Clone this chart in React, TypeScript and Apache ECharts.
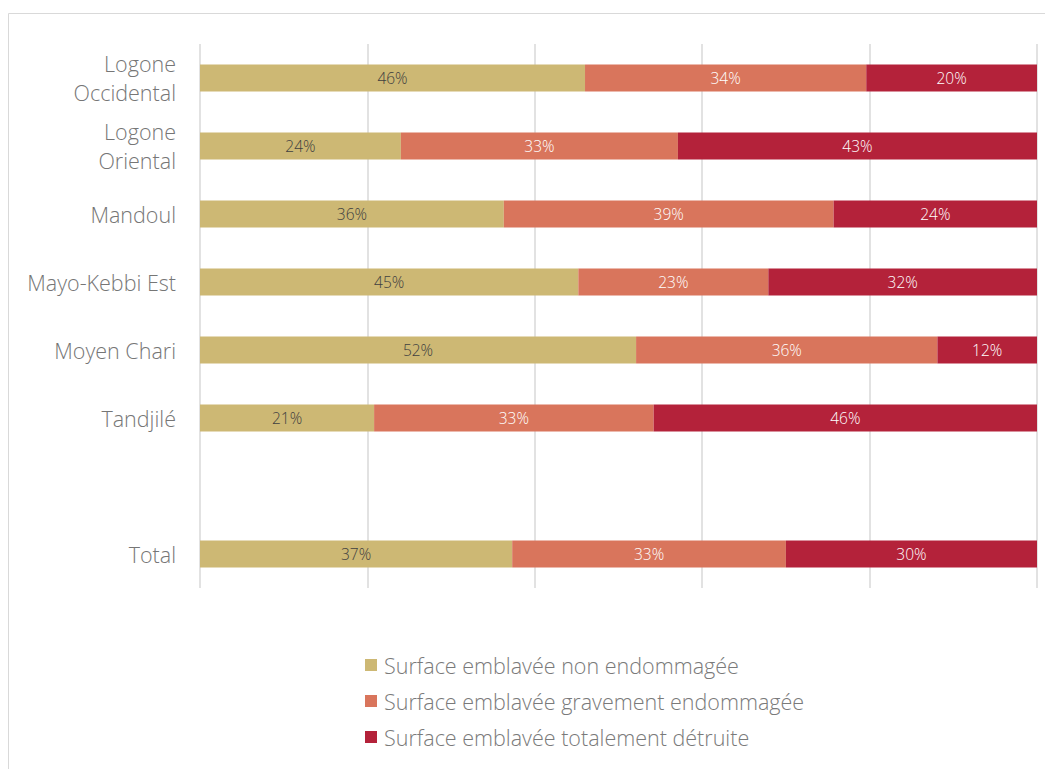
import React, { useEffect, useRef } from "react";
import * as echarts from "echarts";

const categories = [
  "Logone\nOccidental",
  "Logone\nOriental",
  "Mandoul",
  "Mayo-Kebbi Est",
  "Moyen Chari",
  "Tandjilé",
  "",
  "Total",
];
const nonDamaged = [46.0, 24.0, 36.3, 45.2, 52.1, 20.8, null, 37.3];
const severelyDamaged = [33.6, 33.1, 39.4, 22.7, 36.0, 33.4, null, 32.7];
const destroyed = [20.4, 42.9, 24.3, 32.1, 11.9, 45.8, null, 30.0];
const seriesNames = [
  "Surface emblavée non endommagée",
  "Surface emblavée gravement endommagée",
  "Surface emblavée totalement détruite",
];
const colors = ["#CDB874", "#D9755C", "#B4223A"];
const labelColors = ["#404040", "#ffffff", "#ffffff"];

export default function App() {
  const ref = useRef<HTMLDivElement>(null);
  useEffect(() => {
    if (!ref.current) return;
    const chart = echarts.init(ref.current, null, { renderer: "svg" });
    const font = "'Open Sans', sans-serif";
    const data = [nonDamaged, severelyDamaged, destroyed];
    chart.setOption({
      animation: false,
      textStyle: { fontFamily: font },
      graphic: [
        {
          type: "rect",
          shape: { x: 0.5, y: 5.5, width: 1100, height: 800 },
          style: { fill: "none", stroke: "#d9d9d9", lineWidth: 1 },
          silent: true,
        },
      ],
      grid: { left: 192, right: 16, top: 36, bottom: 181, containLabel: false },
      xAxis: {
        type: "value",
        min: 0,
        max: 100,
        interval: 20,
        axisLabel: { show: false },
        axisLine: { show: false },
        axisTick: { show: false },
        splitLine: { show: true, lineStyle: { color: "#d9d9d9", width: 1.5 } },
      },
      yAxis: {
        type: "category",
        inverse: true,
        data: categories,
        axisLine: { show: false },
        axisTick: { show: false },
        axisLabel: {
          color: "#767676",
          fontSize: 21.5,
          fontWeight: 300,
          lineHeight: 29,
          margin: 24,
          fontFamily: font,
          align: "right",
        },
      },
      legend: {
        orient: "vertical",
        left: 352,
        top: 640,
        icon: "rect",
        itemWidth: 12,
        itemHeight: 12,
        itemGap: 12,
        data: seriesNames,
        textStyle: {
          color: "#7a7a7a",
          fontSize: 21.5,
          fontWeight: 300,
          lineHeight: 24,
          padding: [0, 0, 0, 2],
          fontFamily: font,
        },
      },
      series: seriesNames.map((name, i) => ({
        name,
        type: "bar",
        stack: "total",
        barWidth: 27,
        data: data[i],
        itemStyle: { color: colors[i] },
        label: {
          show: true,
          position: "inside",
          color: labelColors[i],
          fontSize: 15.5,
          fontWeight: 300,
          fontFamily: font,
          formatter: (p: any) => (p.value == null ? "" : Math.round(p.value) + "%"),
        },
      })),
    });
    return () => chart.dispose();
  }, []);
  return <div ref={ref} style={{ width: 1045, height: 761 }} />;
}
